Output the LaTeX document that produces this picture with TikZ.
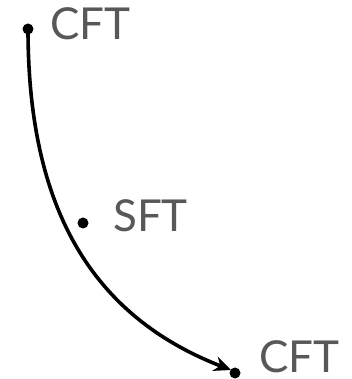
\documentclass[tikz,border=0pt]{standalone}
\usepackage{fontspec}
\setmainfont{Lato}
\usetikzlibrary{arrows.meta}
\definecolor{labelgray}{HTML}{585858}
\begin{document}
\begin{tikzpicture}[x=1pt,y=1pt,
  dotnode/.style={circle,fill=black,inner sep=0pt,minimum size=11pt},
  lbl/.style={anchor=base west,inner sep=0pt,text=labelgray,font=\fontsize{44}{44}\selectfont},
  flow/.style={line width=3.6pt,-{Stealth[length=17pt,width=15pt]}}]
\useasboundingbox (0,0) rectangle (352,379);
\fill[white] (0,0) rectangle (352,379);
\node[dotnode] (a) at (28,350) {};
\node[dotnode] (s) at (83,156) {};
\node[dotnode] (b) at (235,6) {};
\coordinate (bt) at (231,9);
\node[lbl] (ta) at (50,339) {CFT};
\node[lbl] (ts) at (113,147) {SFT};
\node[lbl] (tb) at (259,6) {CFT};
\draw[flow] (a.center) .. controls (28,170) and (92,63) .. (bt);
\end{tikzpicture}
\end{document}
